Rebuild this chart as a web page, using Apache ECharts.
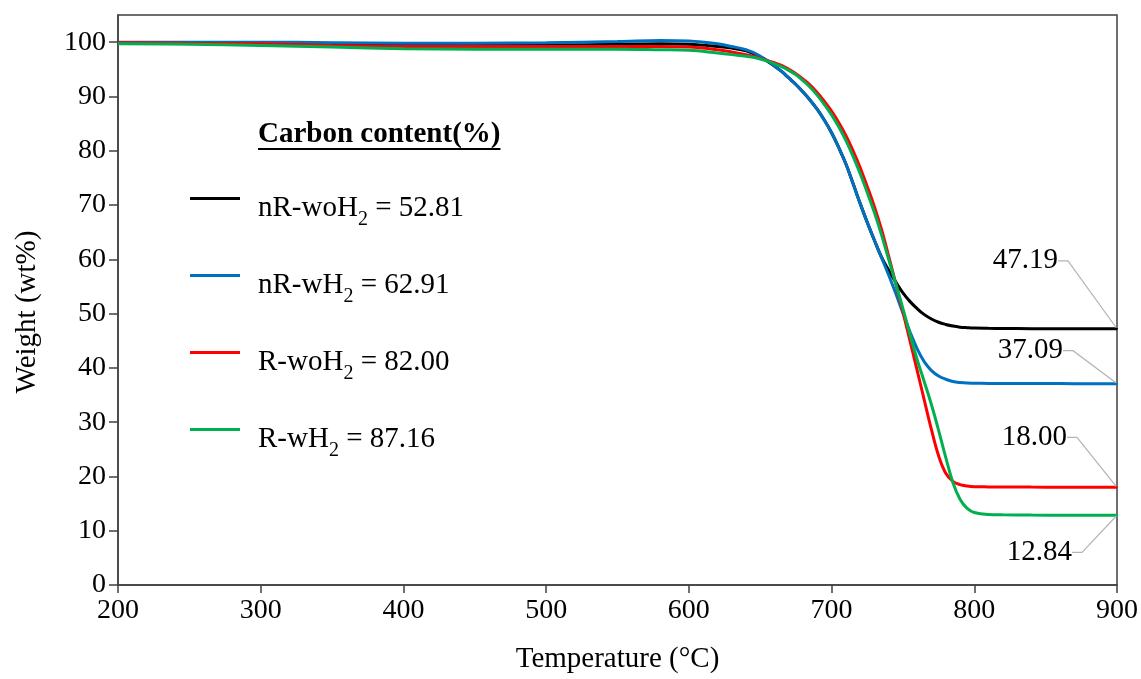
<!DOCTYPE html>
<html>
<head>
<meta charset="utf-8">
<script src="https://cdn.jsdelivr.net/npm/echarts@6/dist/echarts.min.js"></script>
<style>
  html, body { margin: 0; padding: 0; background: #ffffff; }
  #chart { width: 1141px; height: 679px; }
</style>
</head>
<body>
<div id="chart"></div>
<script>
// Temperature grid (°C) shared by all four TGA curves
const temperature = [200, 250, 300, 350, 400, 450, 500, 550, 580, 600, 620, 630,
  640, 645, 650, 655, 660, 665, 670, 675, 680, 685, 690, 695, 700, 705, 710, 715, 720, 725, 730, 735,
  740, 745, 750, 755, 760, 765, 770, 775, 780, 785, 790, 795, 800,
  810, 820, 840, 860, 880, 900];

// Residual weight (wt%) for each sample
const nR_woH2 = [99.9, 99.9, 99.8, 99.6, 99.5, 99.5, 99.5, 99.6, 99.7, 99.6, 99.2, 98.9,
  98.4, 97.9, 97.3, 96.5, 95.6, 94.6, 93.4, 92.2, 90.8, 89.3, 87.6, 85.6, 83.3, 80.6, 77.6, 74.0, 70.3, 66.8, 63.5, 60.4,
  58.0, 55.8, 53.8, 52.2, 50.9, 49.8, 49.0, 48.4, 48.0, 47.7, 47.5, 47.4, 47.33,
  47.28, 47.25, 47.22, 47.21, 47.2, 47.19];
const nR_wH2 = [100.0, 100.0, 100.0, 99.9, 99.8, 99.8, 99.9, 100.1, 100.3, 100.2, 99.7, 99.2,
  98.6, 98.1, 97.4, 96.6, 95.6, 94.6, 93.4, 92.2, 90.8, 89.3, 87.6, 85.6, 83.3, 80.6, 77.6, 74.0, 70.3, 66.8, 63.5, 60.3,
  57.1, 53.7, 50.1, 46.6, 43.5, 41.1, 39.5, 38.5, 37.9, 37.5, 37.3, 37.2, 37.17,
  37.14, 37.12, 37.1, 37.1, 37.09, 37.09];
const R_woH2 = [99.9, 99.8, 99.7, 99.4, 99.2, 99.2, 99.2, 99.2, 99.2, 99.1, 98.6, 98.2,
  97.7, 97.4, 97.0, 96.6, 96.2, 95.7, 95.0, 94.2, 93.2, 92.1, 90.7, 89.1, 87.3, 85.2, 82.8, 80.0, 76.9, 73.4, 69.7, 65.5,
  60.6, 55.5, 50.3, 44.9, 39.5, 34.0, 28.6, 23.8, 20.6, 19.1, 18.5, 18.25, 18.12,
  18.07, 18.05, 18.03, 18.02, 18.01, 18.00];
const R_wH2 = [99.7, 99.6, 99.4, 99.1, 98.8, 98.7, 98.7, 98.7, 98.6, 98.5, 98.0, 97.7,
  97.4, 97.2, 96.9, 96.5, 96.0, 95.5, 94.8, 94.0, 92.9, 91.7, 90.2, 88.5, 86.6, 84.4, 81.9, 79.0, 75.8, 72.3, 68.6, 64.5,
  60.0, 55.5, 50.9, 46.1, 41.5, 37.4, 33.2, 28.5, 23.5, 18.9, 15.8, 14.1, 13.35,
  12.98, 12.92, 12.88, 12.86, 12.85, 12.84];

const sampleNames = ['nR-woH2', 'nR-wH2', 'R-woH2', 'R-wH2'];
const carbonContent = [52.81, 62.91, 82.00, 87.16];
const xTicks = [200, 300, 400, 500, 600, 700, 800, 900];
const yTicks = [0, 10, 20, 30, 40, 50, 60, 70, 80, 90, 100];

const weights = [nR_woH2, nR_wH2, R_woH2, R_wH2];
const colors = ['#000000', '#0070C0', '#FF0000', '#00B050'];
const FONT = '"Liberation Serif", "Times New Roman", serif';
const AXIS_COLOR = '#404040';

// offsets of the residue labels from the curve ends (px)
const residueLabelOffset = [[-48, -68], [-43, -33], [-39, -50], [-34, 37]];

const lineSeries = sampleNames.map((name, i) => ({
  type: 'line',
  name: name,
  data: temperature.map((t, k) => [t, weights[i][k]]),
  showSymbol: false,
  smooth: 0.4,
  lineStyle: { color: colors[i], width: 3 },
  itemStyle: { color: colors[i] },
  silent: true,
  z: 2 + i
}));

// final residue of each curve, labelled at the right edge
const residueSeries = {
  type: 'scatter',
  name: 'residue',
  data: weights.map(w => [temperature[temperature.length - 1], w[w.length - 1]]),
  symbol: 'circle',
  symbolSize: 2,
  itemStyle: { color: p => colors[p.dataIndex], opacity: 1 },
  silent: true,
  z: 10,
  label: {
    show: true,
    position: 'left',
    distance: 0,
    formatter: p => p.value[1].toFixed(2),
    fontFamily: FONT,
    fontSize: 29,
    color: '#000000',
    opacity: 1,
    padding: [0, 10, 0, 0]
  },
  labelLayout: p => ({ dx: residueLabelOffset[p.dataIndex][0], dy: residueLabelOffset[p.dataIndex][1] }),
  labelLine: { show: true, length2: 10, lineStyle: { color: '#b4b4b4', width: 1.2, opacity: 1 } }
};

// width of the legend heading, for its underline
const headingText = 'Carbon content(%)';
const headingFont = 'bold 29px "Liberation Serif"';
const mctx = document.createElement('canvas').getContext('2d');
mctx.font = headingFont;
const headingWidth = mctx.measureText(headingText).width;

const chart = echarts.init(document.getElementById('chart'), null, { renderer: 'canvas' });

chart.setOption({
  backgroundColor: '#ffffff',
  animation: false,
  grid: {
    left: 118, right: 24, top: 15, bottom: 94,
    show: true, borderColor: AXIS_COLOR, borderWidth: 1.5, backgroundColor: 'transparent'
  },
  xAxis: {
    type: 'value',
    min: xTicks[0], max: xTicks[xTicks.length - 1], interval: 100,
    name: 'Temperature (°C)',
    nameLocation: 'middle',
    nameGap: 60,
    nameTextStyle: { fontFamily: FONT, fontSize: 29, color: '#000000' },
    axisLine: { show: true, onZero: false, lineStyle: { color: AXIS_COLOR, width: 1.5 } },
    axisTick: { show: true, inside: false, length: 8, lineStyle: { color: AXIS_COLOR, width: 1.5 } },
    axisLabel: { fontFamily: FONT, fontSize: 28, color: '#000000', margin: 12 },
    splitLine: { show: false }
  },
  yAxis: {
    type: 'value',
    min: 0, max: 105, interval: 10,
    name: 'Weight (wt%)',
    nameLocation: 'middle',
    nameGap: 76,
    nameTextStyle: { fontFamily: FONT, fontSize: 29, color: '#000000', padding: [0, 24, 0, 0] },
    axisLine: { show: true, onZero: false, lineStyle: { color: AXIS_COLOR, width: 1.5 } },
    axisTick: { show: true, inside: false, length: 9, customValues: yTicks, lineStyle: { color: AXIS_COLOR, width: 1.5 } },
    axisLabel: { fontFamily: FONT, fontSize: 28, color: '#000000', margin: 12, customValues: yTicks },
    splitLine: { show: false }
  },
  legend: {
    data: sampleNames,
    orient: 'vertical',
    left: 190,
    top: 174,
    padding: 0,
    itemGap: 21,
    itemWidth: 50,
    itemHeight: 3,
    icon: 'rect',
    selectedMode: false,
    formatter: name => {
      const i = sampleNames.indexOf(name);
      return name.replace('H2', 'H{sub|2}') + ' = ' + carbonContent[i].toFixed(2);
    },
    textStyle: {
      fontFamily: FONT,
      fontSize: 29,
      lineHeight: 29,
      color: '#000000',
      padding: [20, 0, 0, 13],
      rich: {
        sub: { fontFamily: FONT, fontSize: 20, lineHeight: 10, padding: [16, 0, 0, 0], verticalAlign: 'top', color: '#000000' }
      }
    }
  },
  graphic: [
    {
      type: 'text', left: 258, top: 120, silent: true,
      style: { text: headingText, font: headingFont, fill: '#000000' }
    },
    {
      type: 'line', silent: true,
      shape: { x1: 258, y1: 149, x2: 258 + headingWidth, y2: 149 },
      style: { stroke: '#000000', lineWidth: 2 }
    }
  ],
  series: [...lineSeries, residueSeries]
});
</script>
</body>
</html>
